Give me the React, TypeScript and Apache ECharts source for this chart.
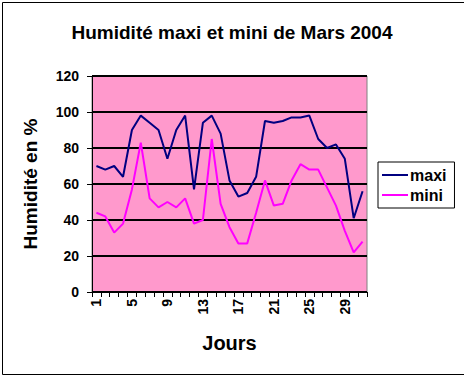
import React, { useEffect, useRef } from "react";
import * as echarts from "echarts";

const days = Array.from({ length: 31 }, (_, i) => String(i + 1));
const maxi = [70, 68, 70, 64, 90, 98, 94, 90, 74, 90, 98, 57, 94, 98, 88, 62, 53, 55, 64, 95, 94, 95, 97, 97, 98, 85, 80, 82, 74, 41, 56];
const mini = [44, 42, 33, 38, 57, 83, 52, 47, 50, 47, 52, 38, 40, 85, 49, 36, 27, 27, 44, 62, 48, 49, 62, 71, 68, 68, 58, 48, 34, 22, 28];

const FONT = "'Liberation Sans', Arial, sans-serif";

export default function App() {
  const ref = useRef<HTMLDivElement>(null);
  useEffect(() => {
    const chart = echarts.init(ref.current!, null, { renderer: "svg" });
    chart.setOption({
      animation: false,
      backgroundColor: "#ffffff",
      title: {
        text: "Humidité maxi et mini de Mars 2004",
        left: "center",
        top: 18,
        textStyle: { fontFamily: FONT, fontWeight: "bold", fontSize: 19, color: "#000" },
      },
      legend: {
        orient: "vertical",
        left: 378,
        top: 162,
        padding: [5, 8, 5, 4],
        itemGap: 4,
        backgroundColor: "#fff",
        borderColor: "#000",
        borderWidth: 1,
        borderRadius: 0,
        icon: "rect",
        itemWidth: 26,
        itemHeight: 2,
        textStyle: { fontFamily: FONT, fontWeight: "bold", fontSize: 16, color: "#000", padding: [0, 0, 0, -3] },
        data: ["maxi", "mini"],
      },
      grid: {
        left: 92,
        top: 76,
        width: 275,
        height: 216,
        show: true,
        backgroundColor: "#FF99CC",
        borderColor: "#808080",
        borderWidth: 1,
      },
      xAxis: {
        type: "category",
        data: days,
        boundaryGap: true,
        name: "Jours",
        nameLocation: "middle",
        nameGap: 41,
        nameTextStyle: { fontFamily: FONT, fontWeight: "bold", fontSize: 20, color: "#000" },
        axisLine: { lineStyle: { color: "#000", width: 1 } },
        axisTick: { show: true, interval: 0, length: 5, lineStyle: { color: "#000" } },
        axisLabel: {
          interval: 3,
          rotate: 90,
          margin: 7,
          fontFamily: FONT,
          fontWeight: "bold",
          fontSize: 14,
          color: "#000",
        },
        splitLine: { show: false },
      },
      yAxis: {
        type: "value",
        min: 0,
        max: 120,
        interval: 20,
        name: "Humidité en %",
        nameLocation: "middle",
        nameGap: 52,
        nameTextStyle: { fontFamily: FONT, fontWeight: "bold", fontSize: 19, color: "#000" },
        axisLine: { show: true, lineStyle: { color: "#000", width: 1 } },
        axisTick: { show: true, length: 5, lineStyle: { color: "#000" } },
        axisLabel: { margin: 13, fontFamily: FONT, fontWeight: "bold", fontSize: 14, color: "#000" },
        splitLine: { show: true, lineStyle: { color: "#000", width: 2 } },
      },
      series: [
        {
          name: "maxi",
          type: "line",
          data: maxi,
          symbol: "none",
          lineStyle: { color: "#000080", width: 2 },
          itemStyle: { color: "#000080" },
        },
        {
          name: "mini",
          type: "line",
          data: mini,
          symbol: "none",
          lineStyle: { color: "#FF00FF", width: 2 },
          itemStyle: { color: "#FF00FF" },
        },
      ],
      graphic: [
        {
          type: "rect",
          left: 0,
          top: 0,
          shape: { x: 0.5, y: 0.5, width: 462, height: 372 },
          style: { fill: "none", stroke: "#000", lineWidth: 1 },
          silent: true,
        },
      ],
    });
    return () => chart.dispose();
  }, []);
  return (
    <div
      ref={ref}
      style={{ position: "fixed", left: 0, top: 0, width: 464, height: 375 }}
    />
  );
}
